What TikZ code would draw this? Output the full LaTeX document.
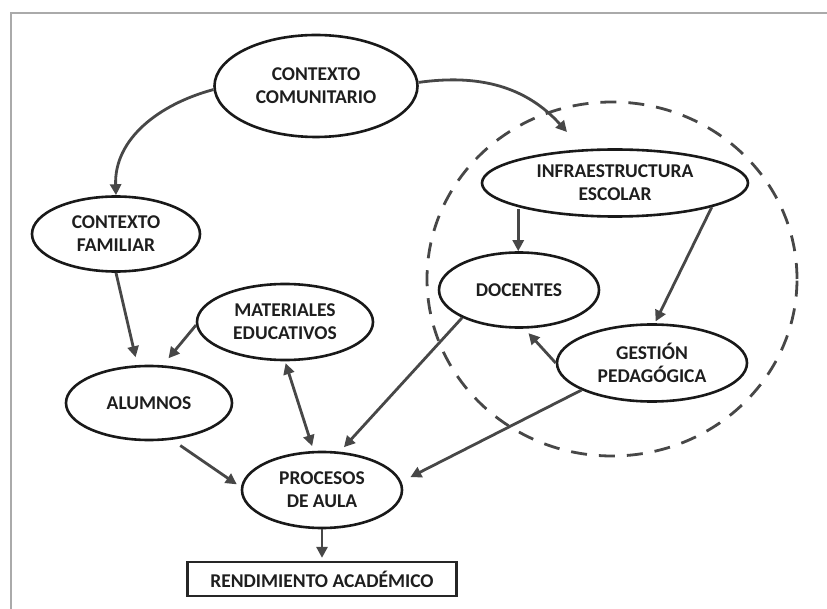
\documentclass[tikz,border=0pt]{standalone}
\usepackage{fontspec}
\setmainfont{Carlito}
\usetikzlibrary{arrows.meta,shapes.geometric}
\definecolor{linec}{HTML}{474747}
\definecolor{textc}{HTML}{1E1E1E}
\definecolor{framec}{HTML}{AAAAAA}
\tikzset{
  oval/.style={ellipse, draw=black!90, line width=2.6pt, inner sep=0pt, align=center,
    font=\bfseries\fontsize{19.5}{23}\selectfont, text=textc},
  rbox/.style={rectangle, draw=black!85, line width=2.3pt, inner sep=0pt, align=center,
    font=\bfseries\fontsize{19.5}{23}\selectfont, text=textc},
  conn/.style={draw=linec, line width=2.8pt, -{Triangle[length=11pt,width=11pt]}},
  dconn/.style={draw=linec, line width=2.8pt, {Triangle[length=11pt,width=11pt]}-{Triangle[length=11pt,width=11pt]}},
  zone/.style={ellipse, draw=linec, line width=2.8pt, dash pattern=on 16pt off 12pt, inner sep=0pt},
}
\begin{document}
\begin{tikzpicture}[x=1pt,y=-1pt]
\useasboundingbox (0,0) rectangle (827,609);
% frame
\draw[framec, line width=2.5pt] (11,609) -- (11,13) -- (827,13);
% dashed zone
\node[zone, minimum width=370pt, minimum height=354pt] (zone) at (612,279) {};
% nodes
\node[oval, minimum width=203pt, minimum height=102pt] (com) at (316,86) {CONTEXTO\\COMUNITARIO};
\node[oval, minimum width=168pt, minimum height=75pt] (fam) at (116,234) {CONTEXTO\\FAMILIAR};
\node[oval, minimum width=176pt, minimum height=76pt] (mat) at (285,322) {MATERIALES\\EDUCATIVOS};
\node[oval, minimum width=166pt, minimum height=74pt] (alu) at (149,403) {ALUMNOS};
\node[oval, minimum width=160pt, minimum height=76pt] (pro) at (322,490) {PROCESOS\\DE AULA};
\node[rbox, minimum width=269pt, minimum height=34pt] (ren) at (322,579) {RENDIMIENTO ACADÉMICO};
\node[oval, minimum width=266pt, minimum height=67pt] (inf) at (615,183) {INFRAESTRUCTURA\\ESCOLAR};
\node[oval, minimum width=160pt, minimum height=75pt] (doc) at (519,290) {DOCENTES};
\node[oval, minimum width=190pt, minimum height=77pt] (ges) at (652,363) {GESTIÓN\\PEDAGÓGICA};
\coordinate (zin) at (567,132);
% connectors
\draw[conn] (com.182) to[out=195,in=92] (fam.north);
\draw[conn] (com.2) to[out=8,in=132] (zin);
\draw[conn, shorten >=8pt] (fam.south) -- (alu.107);
\draw[conn, shorten >=9pt] (mat.182) -- (alu.70);
\draw[dconn, shorten <=2pt, shorten >=5pt] (mat.south) -- (pro.102);
\draw[conn, shorten <=10pt, shorten >=5pt] (alu.302) -- (pro.178);
\draw[conn, shorten >=6pt] (doc.206) -- (pro.65);
\draw[conn, shorten >=10pt] (ges.201) -- (pro.6);
\draw[conn, shorten <=2pt] (inf.194) -- (inf.194 |- doc.north);
\draw[conn, shorten >=2pt] (inf.346) -- (ges.86);
\draw[conn, shorten >=6pt] (ges.180) -- (doc.278);
\draw[conn, shorten >=3pt] (pro.south) -- (ren.north);
\end{tikzpicture}
\end{document}
